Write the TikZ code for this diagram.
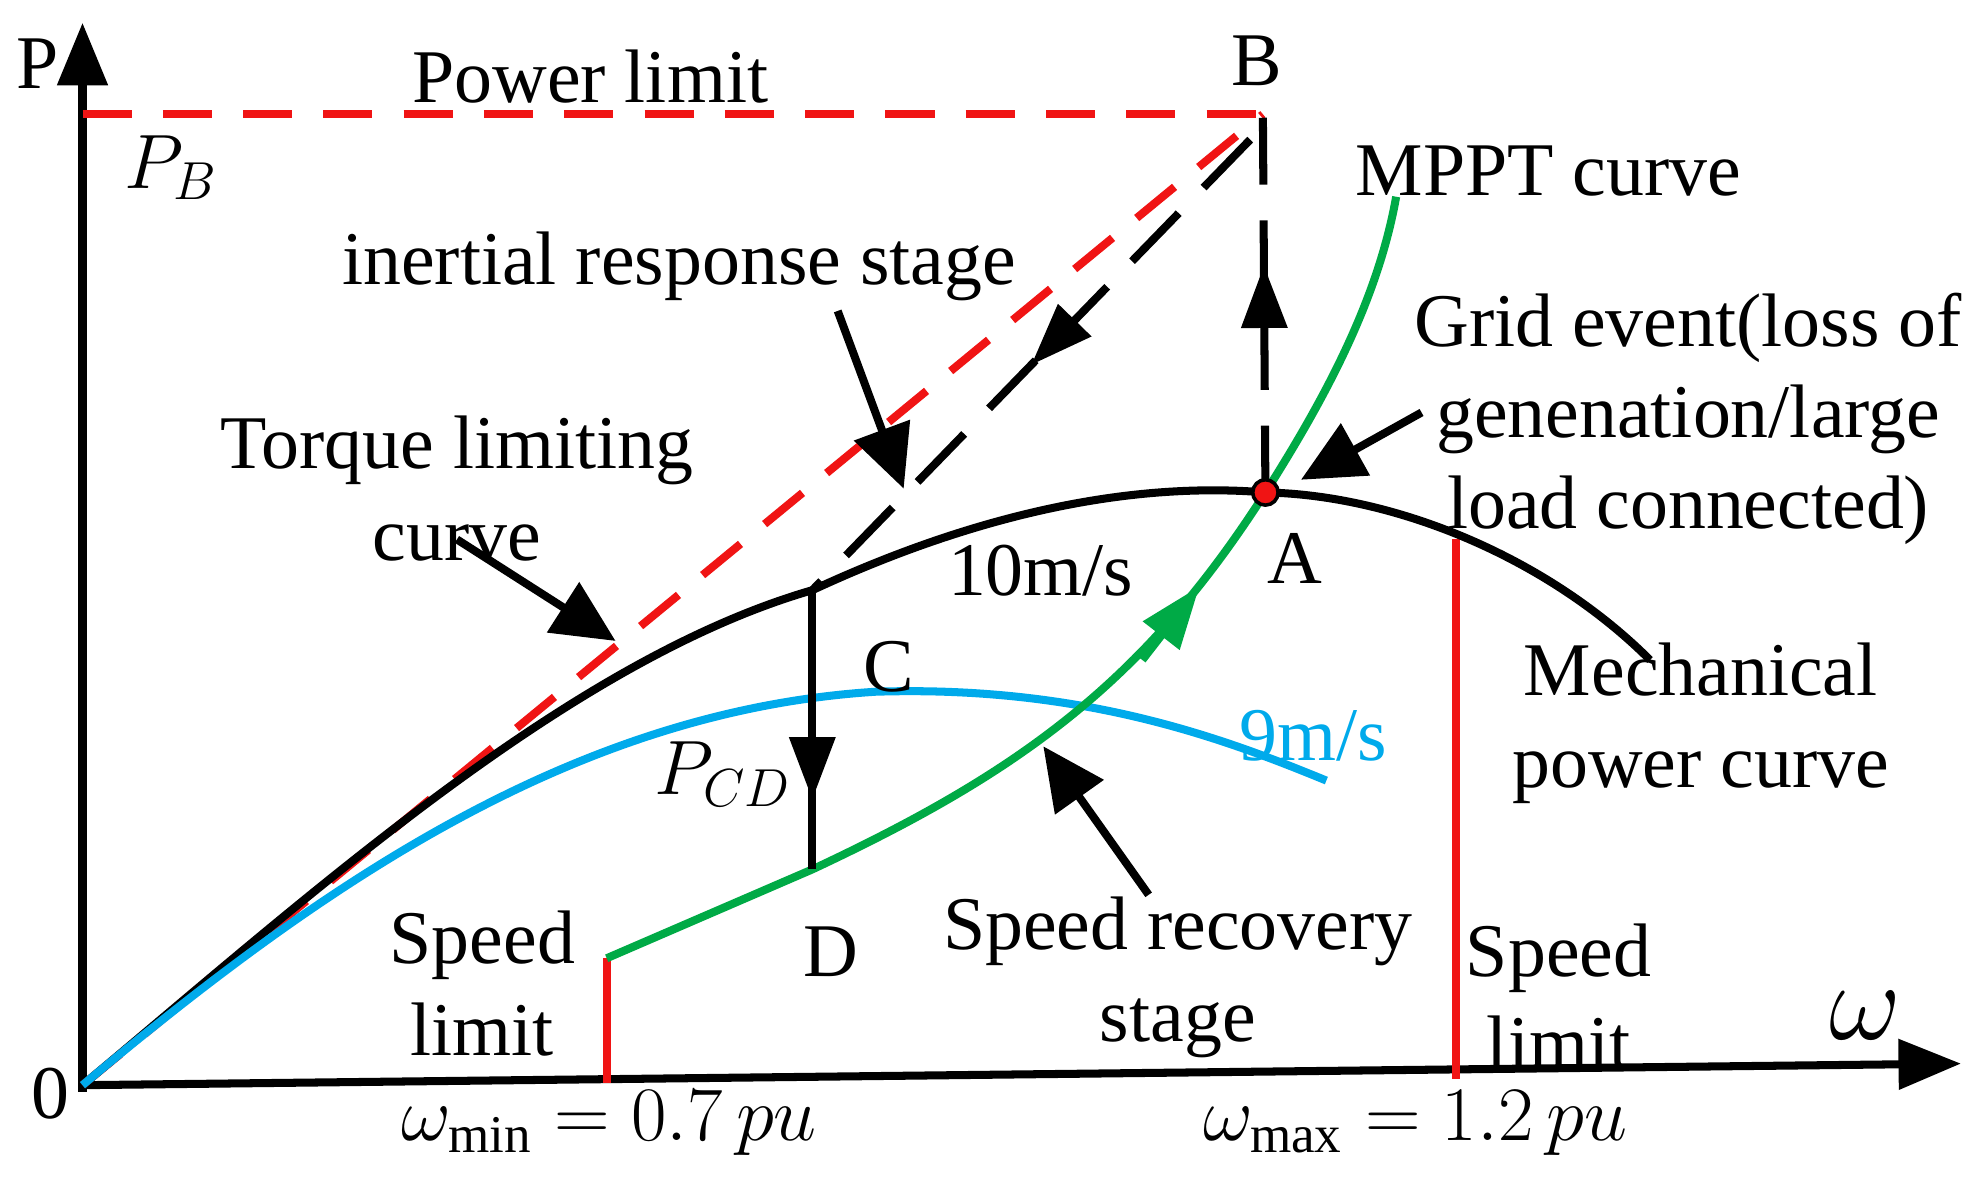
\documentclass[tikz,border=0pt]{standalone}
\usepackage{fontspec}
\setmainfont{Liberation Serif}
\usetikzlibrary{arrows.meta,decorations.markings}
\definecolor{rd}{RGB}{240,20,20}
\definecolor{gr}{RGB}{0,170,70}
\definecolor{bl}{RGB}{0,170,235}
\tikzset{
 big/.style={-{Triangle[length=14pt,width=11pt]}},
 lbl/.style={font=\fontsize{17}{20.5}\selectfont,align=center,inner sep=0},
 ptr/.style={black,line width=1.8pt,-{Triangle[length=14pt,width=13pt]}},
 mid/.style={decoration={markings,mark=at position #1 with {\arrow{Triangle[length=14pt,width=10pt]}}},postaction={decorate}},
}
\begin{document}
\begin{tikzpicture}[x=0.1mm,y=-0.1mm,line width=1.8pt]
\useasboundingbox (0,0) rectangle (1560,927);
\coordinate (O) at (65,855);
\coordinate (B) at (995,90);
\coordinate (A) at (997,388);
\coordinate (E) at (640,465);
\coordinate (D) at (640,685);
\coordinate (M0) at (478,755);
% axes
\draw[big] (O) -- (1545,838) coordinate (xt);
\draw[big] (65,860) -- (65,18) coordinate (yt);
\node[lbl] (P) at (30,50) {P};
\node[lbl] (zero) at (40,862) {0};
\node[lbl,font=\fontsize{30}{34}\selectfont] (w) at (1470,800) {$\omega$};
% red lines
\draw[rd,dash pattern=on 11pt off 7pt] (65,90) -- (B);
\draw[rd,dash pattern=on 11pt off 7pt] (O) -- (B);
\draw[rd] (478,853) -- (M0);
\draw[rd] (1147,850) -- (1147,425);
% black dashed
\draw[dash pattern=on 15pt off 8pt,mid=0.5] (985,110) -- (E);
\draw[dash pattern=on 15pt off 8pt,mid=0.6] (A) -- (995,90);
% curves
\draw (O) .. controls (250,700) and (450,520) .. (E) .. controls (780,400) and (900,380) .. (A) .. controls (1100,390) and (1220,440) .. (1300,520);
\draw[bl] (O) .. controls (250,700) and (450,560) .. (690,545) .. controls (850,540) and (960,580) .. (1045,615);
\draw[gr] (M0) -- (D) .. controls (800,610) and (900,540) .. (A) .. controls (1040,320) and (1085,240) .. (1100,155);
\draw[gr,-{Triangle[length=14pt,width=10pt]}] (900,520) -- (945,462);
\draw[mid=0.75] (E) -- (D);
\fill[rd] (A) circle (10); \draw[line width=0.8pt] (A) circle (10);
% pointers
\draw[ptr] (660,245) -- (712,385);
\draw[ptr] (360,425) -- (485,505);
\draw[ptr] (1120,325) -- (1025,378);
\draw[ptr] (905,705) -- (822,588);
% labels
\node[lbl] (pl) at (465,60) {Power limit};
\node[lbl] (Bl) at (990,48) {B};
\node[lbl] (PB) at (135,132) {$P_B$};
\node[lbl] (irs) at (535,210) {inertial response stage};
\node[lbl] (tl) at (360,385) {Torque limiting\\curve};
\node[lbl] (mppt) at (1220,135) {MPPT curve};
\node[lbl] (ge) at (1330,330) {Grid event(loss of\\genenation/large\\load connected)};
\node[lbl] (Al) at (1020,440) {A};
\node[lbl] (v10) at (820,450) {10m/s};
\node[lbl,text=bl] (v9) at (1035,580) {9m/s};
\node[lbl] (Cl) at (700,525) {C};
\node[lbl] (Dl) at (655,750) {D};
\node[lbl] (PCD) at (570,610) {$P_{CD}$};
\node[lbl] (mech) at (1340,570) {Mechanical\\power curve};
\node[lbl] (sl1) at (380,775) {Speed\\limit};
\node[lbl] (sl2) at (1228,785) {Speed\\limit};
\node[lbl] (srs) at (928,770) {Speed recovery\\stage};
\node[lbl] (wmin) at (480,885) {$\omega_{\min}=0.7\,pu$};
\node[lbl] (wmax) at (1115,885) {$\omega_{\max}=1.2\,pu$};
\end{tikzpicture}
\end{document}
